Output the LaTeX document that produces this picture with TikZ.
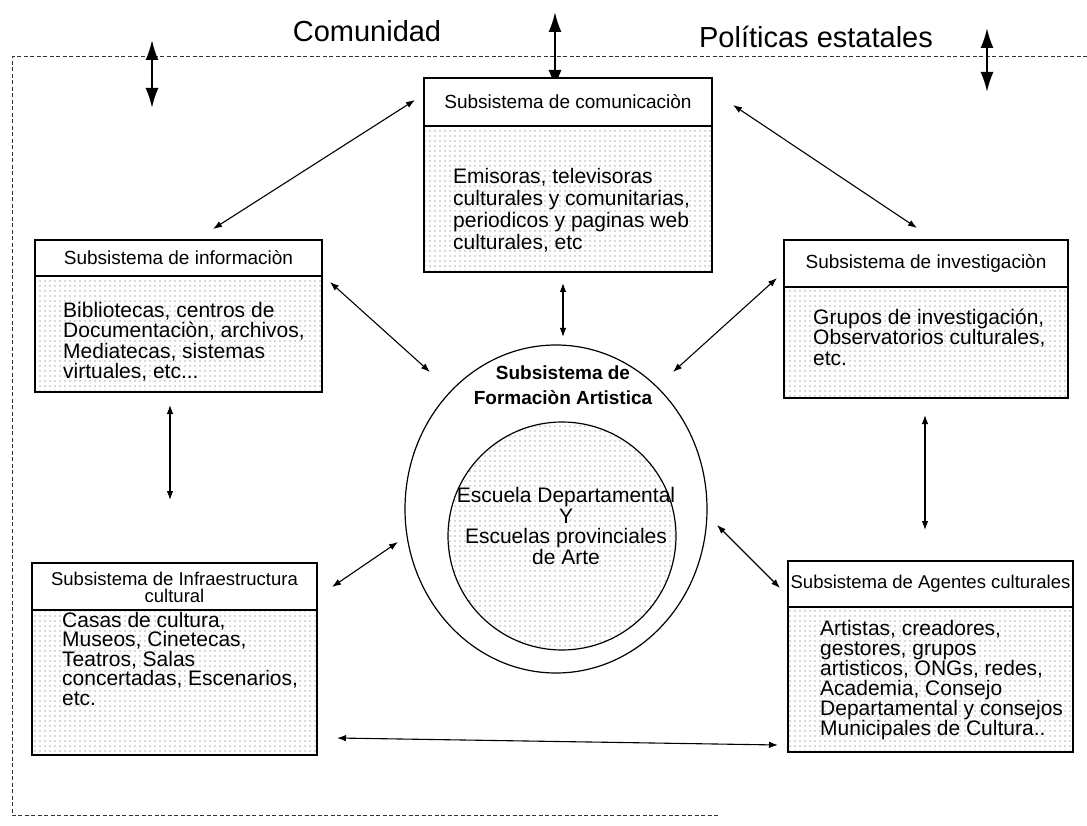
\documentclass[tikz,border=0pt]{standalone}
\usepackage{fontspec}
\setmainfont{Liberation Sans}
\usetikzlibrary{arrows.meta,patterns.meta,shapes.geometric}
\begin{document}
\begin{tikzpicture}[x=1pt,y=-1pt,
  frm/.style={draw=black, line width=1.2pt, inner sep=0pt, outer sep=0pt},
  hdr/.style={frm, fill=white, anchor=north west},
  stip/.style={pattern={Dots[distance=5pt, radius=0.6pt]}, pattern color=black!65},
  bod/.style={frm, anchor=north west, stip},
  htxt/.style={font=\fontsize{19}{15}\selectfont, align=center, inner sep=0pt},
  btxt/.style={font=\fontsize{21}{20.5}\selectfont, align=left, anchor=base west, inner sep=0pt},
  conn/.style={line width=1.1pt, {Latex[length=9pt,width=6.5pt]}-{Latex[length=9pt,width=6.5pt]}},
  big/.style={line width=2.2pt, {Latex[length=20pt,width=13pt]}-{Latex[length=20pt,width=13pt]}},
  frameline/.style={line width=1pt, dash pattern=on 4pt off 2.5pt, black!80}]
\useasboundingbox (0,0) rectangle (1087,826);

% dashed frame
\coordinate (fR) at (1087,57);
\coordinate (fTL) at (12,57);
\coordinate (fBL) at (12,815);
\coordinate (fB) at (720,815);
\draw[frameline] (fR) -- (fTL) -- (fBL) -- (fB);

% outer labels
\node[font=\fontsize{29}{30}\selectfont, inner sep=0pt] (comunidad) at (367,31) {Comunidad};
\node[font=\fontsize{29}{30}\selectfont, inner sep=0pt] (politicas) at (816,37) {Políticas estatales};

% big arrows
\coordinate (b1a) at (152,40); \coordinate (b1b) at (152,108);
\coordinate (b2a) at (555,12); \coordinate (b2b) at (555,90);
\coordinate (b3a) at (987,28); \coordinate (b3b) at (987,92);
\draw[big] (b1a) -- (b1b);
\draw[big] (b2a) -- (b2b);
\draw[big] (b3a) -- (b3b);

% Comunicacion
\node[hdr, minimum width=288pt, minimum height=48pt] (comH) at (424,78) {};
\node[bod, minimum width=288pt, minimum height=146pt] (comB) at (comH.south west) {};
\node[htxt] (comHT) at (comH.center) {Subsistema de comunicaciòn};
\node[btxt, font=\fontsize{21}{22}\selectfont] (comT) at (453,250) {Emisoras, televisoras\\culturales y comunitarias,\\periodicos y paginas web\\culturales, etc};

% Informacion
\node[hdr, minimum width=287pt, minimum height=36pt] (infH) at (35,240) {};
\node[bod, minimum width=287pt, minimum height=116pt] (infB) at (infH.south west) {};
\node[htxt] (infHT) at (infH.center) {Subsistema de informaciòn};
\node[btxt] (infT) at (63,378.5) {Bibliotecas, centros de\\Documentaciòn, archivos,\\Mediatecas, sistemas\\virtuales, etc...};

% Investigacion
\node[hdr, minimum width=284pt, minimum height=47pt] (invH) at (784,240) {};
\node[bod, minimum width=284pt, minimum height=111pt] (invB) at (invH.south west) {};
\node[htxt] (invHT) at (invH.center) {Subsistema de investigaciòn};
\node[btxt] (invT) at (813,365) {Grupos de investigación,\\Observatorios culturales,\\etc.};

% Infraestructura
\node[hdr, minimum width=285pt, minimum height=47pt] (infrH) at (32,563) {};
\node[bod, minimum width=285pt, minimum height=145pt] (infrB) at (infrH.south west) {};
\node[htxt, font=\fontsize{18.5}{17.5}\selectfont] (infrHT) at ([yshift=-1pt]infrH.center) {Subsistema de Infraestructura\\cultural};
\node[btxt, font=\fontsize{21}{19.5}\selectfont] (infrT) at (62,705) {Casas de cultura,\\Museos, Cinetecas,\\Teatros, Salas\\concertadas, Escenarios,\\etc.};

% Agentes
\node[hdr, minimum width=285pt, minimum height=46pt] (agH) at (788,561) {};
\node[bod, minimum width=285pt, minimum height=145pt] (agB) at (agH.south west) {};
\node[htxt, font=\fontsize{18.5}{15}\selectfont] (agHT) at (agH.center) {Subsistema de Agentes culturales};
\node[btxt, font=\fontsize{21}{20}\selectfont] (agT) at (820,735) {Artistas, creadores,\\gestores, grupos\\artisticos, ONGs, redes,\\Academia, Consejo\\Departamental y consejos\\Municipales de Cultura..};

% Circles
\node[draw, line width=1.2pt, ellipse, minimum width=302pt, minimum height=328pt, inner sep=0pt] (outer) at (556,509) {};
\node[draw, line width=1.2pt, circle, minimum size=228pt, inner sep=0pt, stip] (inner) at (562,536) {};
\node[font=\bfseries\fontsize{19}{25}\selectfont, align=center, inner sep=0pt] (formT) at (563,385) {Subsistema de\\Formaciòn Artistica};
\node[font=\fontsize{21}{20.5}\selectfont, align=center, inner sep=0pt] (escT) at (566,526) {Escuela Departamental\\Y\\Escuelas provinciales\\de Arte};

% connectors
\coordinate (a1a) at (415,100); \coordinate (a1b) at (213,229);
\coordinate (a2a) at (733,105); \coordinate (a2b) at (917,228);
\coordinate (a3a) at (563,283); \coordinate (a3b) at (563,337);
\coordinate (a4a) at (330,282); \coordinate (a4b) at (430,372);
\coordinate (a5a) at (777,278); \coordinate (a5b) at (673,372);
\coordinate (a6a) at (170,405); \coordinate (a6b) at (170,500);
\coordinate (a7a) at (925,415); \coordinate (a7b) at (925,530);
\coordinate (a8a) at (332,587); \coordinate (a8b) at (398,542);
\coordinate (a9a) at (717,525); \coordinate (a9b) at (780,588);
\coordinate (a10a) at (337,738); \coordinate (a10b) at (778,745);
\draw[conn] (a1a) -- (a1b);
\draw[conn] (a2a) -- (a2b);
\draw[conn] (a3a) -- (a3b);
\draw[conn] (a4a) -- (a4b);
\draw[conn] (a5a) -- (a5b);
\draw[conn] (a6a) -- (a6b);
\draw[conn] (a7a) -- (a7b);
\draw[conn] (a8a) -- (a8b);
\draw[conn] (a9a) -- (a9b);
\draw[conn] (a10a) -- (a10b);
\end{tikzpicture}
\end{document}
